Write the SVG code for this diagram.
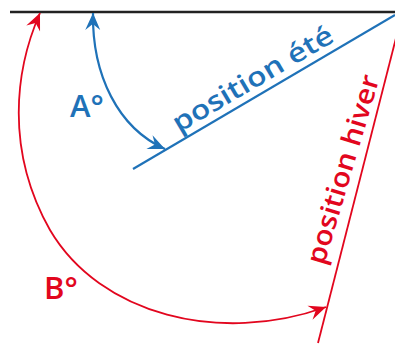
<svg xmlns="http://www.w3.org/2000/svg" width="395" height="353" viewBox="0 0 395 353">
<style>
.blue{stroke:#1f72b8;fill:none;stroke-width:2.2}
.red{stroke:#e2061e;fill:none;stroke-width:1.8}
.tb{fill:#1f72b8;font-family:"Open Sans","Liberation Sans",Arial,sans-serif;font-weight:600}
.tr{fill:#e2061e;font-family:"Open Sans","Liberation Sans",Arial,sans-serif;font-weight:600}
</style>
<defs>
<marker id="ab" viewBox="-18 -9 19 18" markerWidth="19" markerHeight="18" refX="0" refY="0" orient="auto-start-reverse" markerUnits="userSpaceOnUse">
<path d="M0,0 L-17,-7.5 L-11,0 L-17,7.5 Z" fill="#1f72b8"/>
</marker>
<marker id="ar" viewBox="-18 -9 19 18" markerWidth="19" markerHeight="18" refX="0" refY="0" orient="auto-start-reverse" markerUnits="userSpaceOnUse">
<path d="M0,0 L-17,-7.5 L-11,0 L-17,7.5 Z" fill="#e2061e"/>
</marker>
</defs>
<g id="horizon">
<line x1="10" y1="12" x2="395" y2="12" stroke="#222" stroke-width="2.5"/>
</g>
<g id="ete">
<line class="blue" x1="133" y1="169" x2="395" y2="15"/>
<g transform="translate(179,133) rotate(-30.5)">
<text class="tb" x="0" y="0" font-size="27" textLength="182" lengthAdjust="spacingAndGlyphs">position été</text>
</g>
</g>
<g id="hiver">
<line class="red" x1="318" y1="343" x2="396" y2="38"/>
<g transform="translate(324,266) rotate(-73.5)">
<text class="tr" x="0" y="0" font-size="27" textLength="196" lengthAdjust="spacingAndGlyphs">position hiver</text>
</g>
</g>
<g id="connectors">
<path class="blue" d="M93,13 C92,75 118,128 165,149" marker-start="url(#ab)" marker-end="url(#ab)"/>
<path class="red" d="M40,13 C15,70 5,150 50,230 C100,315 220,345 326,307" marker-start="url(#ar)" marker-end="url(#ar)"/>
</g>
<g id="labelA">
<text class="tb" x="70" y="117" font-size="31">A°</text>
</g>
<g id="labelB">
<text class="tr" x="44" y="299" font-size="31">B°</text>
</g>
</svg>
